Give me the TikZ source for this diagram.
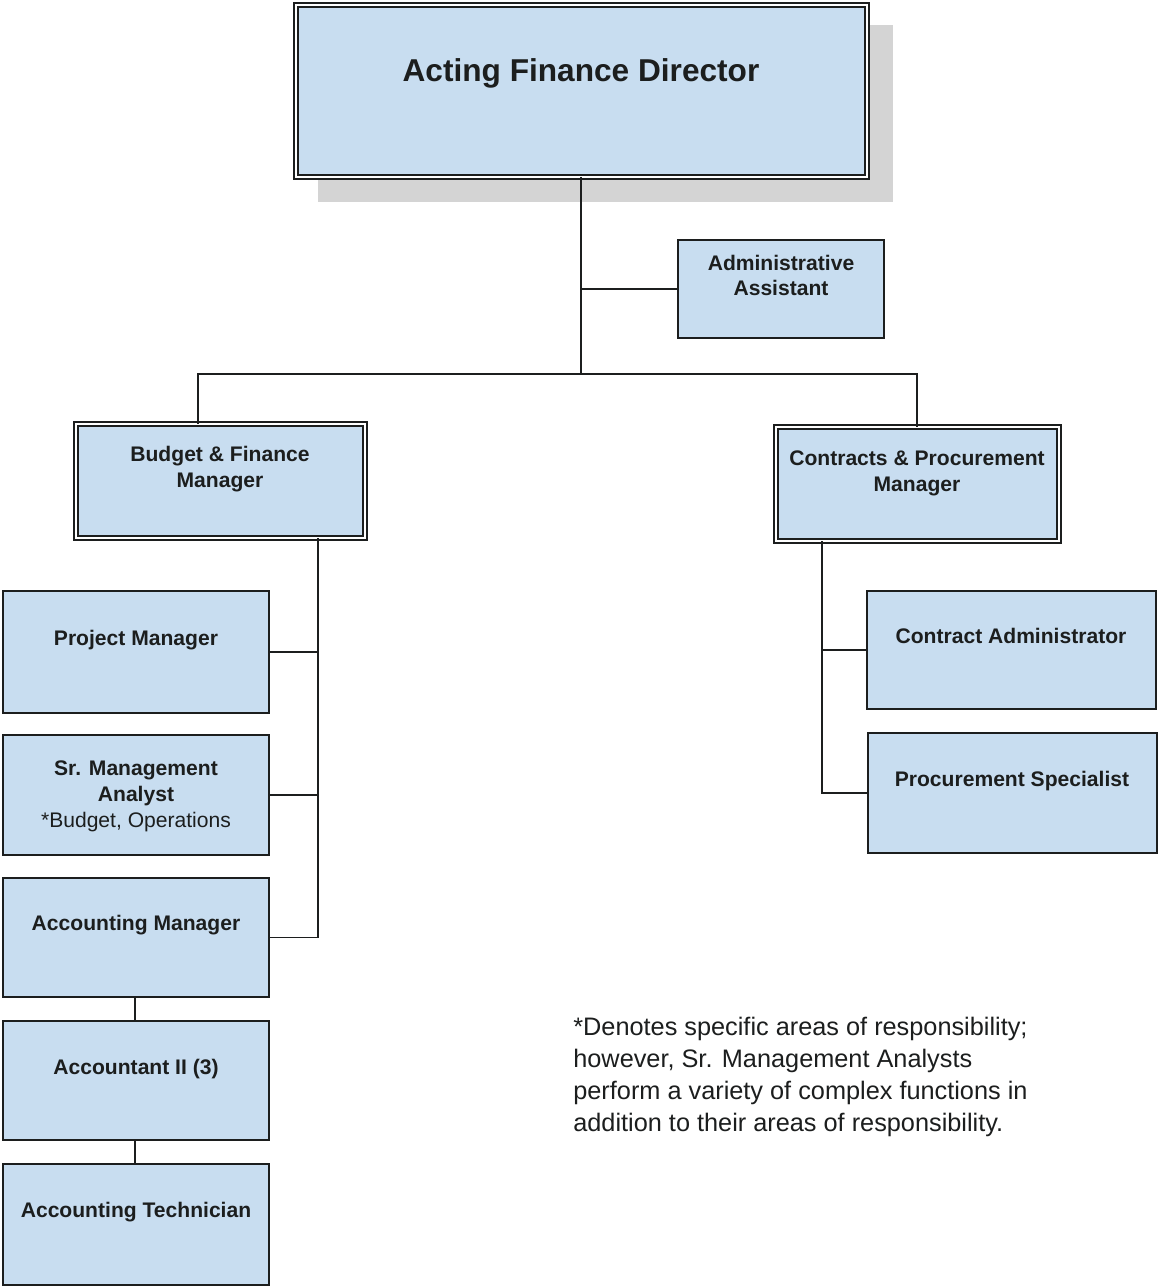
\documentclass[tikz,border=0pt]{standalone}
\usepackage{fontspec}
\setmainfont{Liberation Sans}
\begin{document}
\definecolor{boxblue}{RGB}{200,221,240}
\definecolor{shadowgray}{RGB}{212,212,212}
\definecolor{inkdark}{RGB}{28,30,30}
\newcommand\orgbox[6]{\node[#6, anchor=north west, minimum width={(#4-#2)*0.02cm}, minimum height={(#5-#3)*0.02cm}] (#1) at (#2,#3) {};}
\begin{tikzpicture}[x=0.02cm, y=-0.02cm,
  plainbox/.style={draw=inkdark, line width=0.85pt, fill=boxblue, inner sep=0pt, outer sep=0pt},
  doublebox/.style={draw=inkdark, line width=1pt, double=white, double distance=1.2pt, fill=boxblue, inner sep=0pt, outer sep=0pt},
  title/.style={font=\bfseries\fontsize{12}{14.7}\selectfont, text=inkdark, align=center, anchor=base, inner sep=0pt},
  bigtitle/.style={font=\bfseries\fontsize{18}{22}\selectfont, text=inkdark, align=center, anchor=base, inner sep=0pt},
  link/.style={draw=inkdark, line width=0.85pt}]
% page
\fill[white] (0,0) rectangle (1159,1287);
\useasboundingbox (0,0) rectangle (1159,1287);

% director with drop shadow
\fill[shadowgray] (318,25) rectangle (893,202);
\orgbox{dir}{296}{5}{867}{177}{doublebox}
\node[bigtitle] (dirt) at (581,82) {Acting Finance Director};

% staff and managers (base anchor sits on the last line)
\orgbox{adm}{678}{240}{884}{338}{plainbox}
\node[title] (admt) at (781,296) {Administrative\\Assistant};

\orgbox{bud}{76}{424}{365}{538}{doublebox}
\node[title] (budt) at (220,487) {Budget \& Finance\\Manager};

\orgbox{con}{776}{427}{1059}{541}{doublebox}
\node[title] (cont) at (917,491) {Contracts \& Procurement\\Manager};

% budget & finance section
\orgbox{pm}{3}{591}{269}{713}{plainbox}
\node[title] (pmt) at (136,645) {Project Manager};

\orgbox{sma}{3}{735}{269}{855}{plainbox}
\node[title] (smat) at (136,827) {Sr. Management\\Analyst\\{\mdseries *Budget, Operations}};

\orgbox{acm}{3}{878}{269}{997}{plainbox}
\node[title] (acmt) at (136,930) {Accounting Manager};

\orgbox{acc}{3}{1021}{269}{1140}{plainbox}
\node[title] (acct) at (136,1074) {Accountant II (3)};

\orgbox{tec}{3}{1164}{269}{1285}{plainbox}
\node[title] (tect) at (136,1217) {Accounting Technician};

% contracts section
\orgbox{ca}{867}{591}{1156}{709}{plainbox}
\node[title] (cat) at (1011,643) {Contract Administrator};

\orgbox{ps}{868}{733}{1157}{853}{plainbox}
\node[title] (pst) at (1012,786) {Procurement Specialist};

% connectors
\coordinate (hub) at (581,374);
\draw[link] (dir.south -| hub) -- (hub);
\draw[link] (adm.west) -- (adm.west -| hub);
\draw[link] (bud.north -| 198,0) -- (198,374) -- (917,374) -- (con.north -| 917,0);

\draw[link] (bud.south -| 318,0) -- (acm.east -| 318,0) -- (acm.east);
\draw[link] (pm.east) -- (pm.east -| 318,0);
\draw[link] (sma.east) -- (sma.east -| 318,0);
\draw[link] (acm.south -| 135,0) -- (acc.north -| 135,0);
\draw[link] (acc.south -| 135,0) -- (tec.north -| 135,0);

\draw[link] (con.south -| 822,0) -- (ps.west -| 822,0) -- (ps.west);
\draw[link] (ca.west) -- (ca.west -| 822,0);

% note
\node[font=\fontsize{14.4}{18.1}\selectfont, text=inkdark, align=left, anchor=base west, inner sep=0pt] (note) at (573,1131)
  {*Denotes specific areas of responsibility;\\however, Sr. Management Analysts\\perform a variety of complex functions in\\addition to their areas of responsibility.};
\end{tikzpicture}
\end{document}
